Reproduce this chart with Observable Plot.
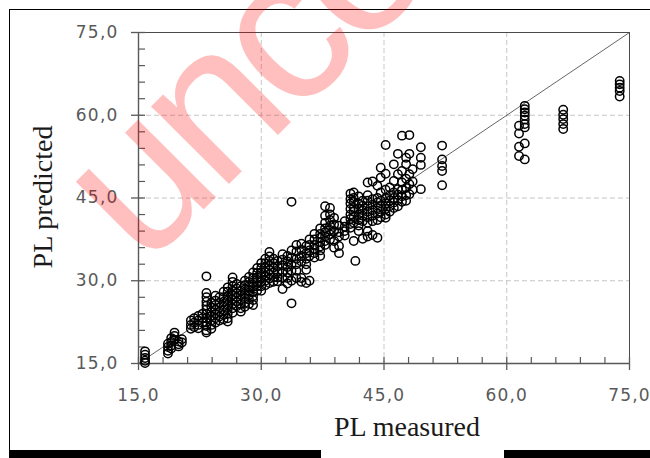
<!DOCTYPE html>
<html><head><meta charset="utf-8">
<script src="https://cdn.jsdelivr.net/npm/d3@7"></script>
<script src="https://cdn.jsdelivr.net/npm/@observablehq/plot@0.6"></script>
<style>
html,body{margin:0;padding:0;background:#fff;}
#wrap{position:relative;width:650px;height:458px;overflow:hidden;}
.deco{position:absolute;background:#000;}
#wm{position:absolute;left:0;top:0;pointer-events:none;}
g[aria-label="x-axis tick label"] text, g[aria-label="y-axis tick label"] text{letter-spacing:1.2px;}
</style></head><body>
<div id="wrap"><div id="chart"></div>
<div class="deco" style="left:9px;top:9px;width:641px;height:1.4px;"></div>
<div class="deco" style="left:9px;top:9px;width:1.4px;height:441px;"></div>
<div class="deco" style="left:9px;top:450px;width:312px;height:8px;"></div>
<div class="deco" style="left:504px;top:450px;width:146px;height:8px;"></div>
<svg id="wm" width="650" height="458"><text transform="translate(144,269) rotate(-45)" font-family="Liberation Sans, Arial, sans-serif" font-size="208" letter-spacing="-10" fill="#ff0000" fill-opacity="0.25">uncorrected</text></svg>
</div>
<script>
// measured value of each column of points
const measured = [15.8,18.6,19.0,19.4,19.9,20.3,21.4,21.8,22.3,22.8,23.3,23.9,24.4,24.9,25.4,25.9,26.5,27.0,27.5,28.0,28.5,29.0,29.5,30.0,30.5,31.0,31.5,32.0,32.6,33.2,33.7,34.3,34.9,35.5,35.9,36.5,37.2,37.8,38.4,38.9,39.5,40.2,40.9,41.3,41.5,41.9,42.4,43.0,43.6,44.2,44.6,45.2,45.7,46.2,46.7,47.2,47.7,48.1,48.5,49.5,52.1,61.5,62.2,66.9,73.8];
// predicted values for each measured column
const predicted = [
 [17.2,16.6,16.0,15.5,15.1],
 [18.0,18.6,17.3,16.8],
 [19.6,18.9,18.2,17.7],
 [20.6,20.0,19.3],
 [19.0,18.5,18.1],
 [18.8,19.4],
 [22.8,22.0,21.3],
 [23.2,22.4,21.6],
 [23.6,22.8,22.0,21.4],
 [24.0,23.2,22.4],
 [30.8,27.8,27.0,26.2,25.5,24.8,24.0,23.2,22.5,21.8,21.0,20.6],
 [26.0,25.2,24.4,23.6,22.8,22.0,21.3],
 [27.3,26.4,25.6,24.8,24.0,23.2,22.4],
 [27.0,26.0,25.2,24.4,23.5,22.8],
 [28.0,27.0,26.2,25.4,24.6,23.8,23.0],
 [28.8,28.0,27.2,26.4,25.6,24.8,24.0,23.2,22.6],
 [30.6,29.8,29.0,28.2,27.4,26.6,25.8,25.0,24.2],
 [29.4,28.6,27.8,27.0,26.2,25.4],
 [29.0,28.2,27.4,26.6,25.8,25.0,24.4],
 [30.0,29.2,28.4,27.6,26.8,26.0,25.3],
 [30.7,29.8,29.0,28.2,27.4,26.6,25.8],
 [31.5,30.5,29.7,28.9,28.0,27.2,26.5,25.6],
 [32.3,31.4,30.6,29.8,29.0,28.2],
 [33.2,32.3,31.5,30.7,29.8,29.0,28.2],
 [34.0,33.2,32.4,31.6,30.8,30.0,29.2],
 [35.2,34.4,33.6,32.8,32.0,31.2,30.4,29.6],
 [34.0,33.2,32.4,31.5,30.6,29.8],
 [33.6,32.6,31.6,30.6,29.9],
 [34.8,33.8,32.8,31.6,30.5,28.5],
 [34.5,33.5,32.5,31.5,30.5,29.5],
 [44.3,35.5,34.2,33.0,31.8,30.0,25.9],
 [36.5,35.3,34.0,33.0,31.8,30.5],
 [36.7,35.6,34.5,33.5,30.5,29.8],
 [36.3,35.0,34.0,33.0,32.0,29.6],
 [37.5,36.5,35.5,34.5,30.0],
 [38.5,37.5,36.5,35.8,35.0,34.2],
 [39.5,38.5,37.8,37.0,36.2,35.5,34.5],
 [43.5,41.8,40.5,39.5,38.8,38.0,37.2,36.5],
 [43.2,42.0,41.0,40.0,39.2,38.4,37.5],
 [41.4,40.2,39.0,37.2,36.0],
 [40.0,38.8,38.0,36.3,35.0],
 [40.8,39.8,39.0,38.2],
 [45.8,44.8,44.0,43.0,42.0,41.2,40.3,39.6],
 [46.0,45.0,44.3,43.2,42.5,41.5,40.5,37.2],
 [33.6],
 [45.3,44.0,43.0,42.0,41.0,40.0,39.0],
 [44.5,43.6,42.8,41.8,40.8,37.6],
 [47.8,45.5,44.5,43.5,42.5,41.5,40.5,39.0,38.0],
 [48.0,44.8,43.8,42.8,41.8,40.8,38.3],
 [47.2,45.0,44.2,43.2,42.2,41.0,37.8],
 [50.5,48.7,46.0,44.5,43.5,42.5,41.5],
 [54.6,49.4,46.5,45.0,44.0,43.0,42.0,41.4],
 [46.9,45.5,44.5,43.5,42.5],
 [51.1,48.1,46.0,45.0,44.2,43.2],
 [53.0,49.3,46.6,45.6,44.6,43.5],
 [56.3,49.9,47.8,46.5,45.3,44.3],
 [52.3,51.1,48.5,46.8,45.5,44.5],
 [56.4,53.0,49.3,47.5,45.7],
 [50.2,48.0,46.5],
 [54.2,52.3,51.0,46.6],
 [54.5,52.0,50.8,49.9,47.3],
 [58.1,56.7,54.3,52.6],
 [61.7,61.1,60.5,59.9,59.2,58.4,57.8,54.9,52.0],
 [61.0,60.1,59.3,58.4,57.5],
 [66.2,65.6,65.0,64.4,63.4]
];
const majorTicks = [15,30,45,60,75];
const minorTicks = [18,21,24,27,33,36,39,42,48,51,54,57,63,66,69,72];
const gridTicks = [30,45,60];
const identityLine = [15,75];
const xTitle = "PL measured";
const yTitle = "PL predicted";

const points = measured.flatMap((m,i) => predicted[i].map(p => ({m, p})));
const fmt = d => d.toFixed(1).replace(".", ",");
const axisColor = "#595959";

const chart = Plot.plot({
  width: 650, height: 458,
  marginLeft: 138, marginRight: 21, marginTop: 32, marginBottom: 95,
  style: {fontFamily: "DejaVu Sans, sans-serif", fontSize: "17px", color: axisColor, background: "transparent"},
  x: {domain: [15,75]},
  y: {domain: [15,75]},
  marks: [
    Plot.gridX(gridTicks, {stroke: "#c6c6c6", strokeOpacity: 1, strokeDasharray: "5,3"}),
    Plot.gridY(gridTicks, {stroke: "#c6c6c6", strokeOpacity: 1, strokeDasharray: "5,3"}),
    Plot.line(identityLine, {x: d => d, y: d => d, stroke: "#555", strokeWidth: 0.9}),
    Plot.frame({stroke: "#4a4a4a", strokeWidth: 1}),
    // outer major ticks + labels
    Plot.axisX({ticks: majorTicks, tickSize: 7, tickPadding: 18, tickFormat: fmt, label: null, stroke: axisColor, fill: axisColor, strokeWidth: 1.3}),
    Plot.axisY({ticks: majorTicks, tickSize: 7, tickPadding: 13, tickFormat: fmt, label: null, stroke: axisColor, fill: axisColor, strokeWidth: 1.3}),
    // inner major ticks
    Plot.axisX({ticks: majorTicks, tickSize: 6, dy: -6, text: null, label: null, stroke: axisColor, strokeWidth: 1.3}),
    Plot.axisY({ticks: majorTicks, tickSize: 7, dx: 7, text: null, label: null, stroke: axisColor, strokeWidth: 1.3}),
    // inner minor ticks
    Plot.axisX({ticks: minorTicks, tickSize: 6, dy: -6, text: null, label: null, stroke: axisColor, strokeWidth: 1.2}),
    Plot.axisY({ticks: minorTicks, tickSize: 7, dx: 7, text: null, label: null, stroke: axisColor, strokeWidth: 1.2}),
    Plot.ruleX([15], {stroke: axisColor, strokeWidth: 1.4}),
    Plot.ruleY([15], {stroke: axisColor, strokeWidth: 1.4}),
    Plot.dot(points, {x: "m", y: "p", r: 4.2, stroke: "#000", strokeWidth: 1.5, fill: "none"}),
    Plot.text([xTitle], {frameAnchor: "bottom", dx: 23, dy: 72, text: d => d, fontFamily: "Liberation Serif, Times New Roman, serif", fontSize: 28, fill: "#1a1a1a"}),
    Plot.text([yTitle], {frameAnchor: "left", textAnchor: "middle", dx: -95, dy: -1, rotate: -90, text: d => d, fontFamily: "Liberation Serif, Times New Roman, serif", fontSize: 28, fill: "#1a1a1a"})
  ]
});
document.getElementById("chart").appendChild(chart);
</script>
</body></html>
